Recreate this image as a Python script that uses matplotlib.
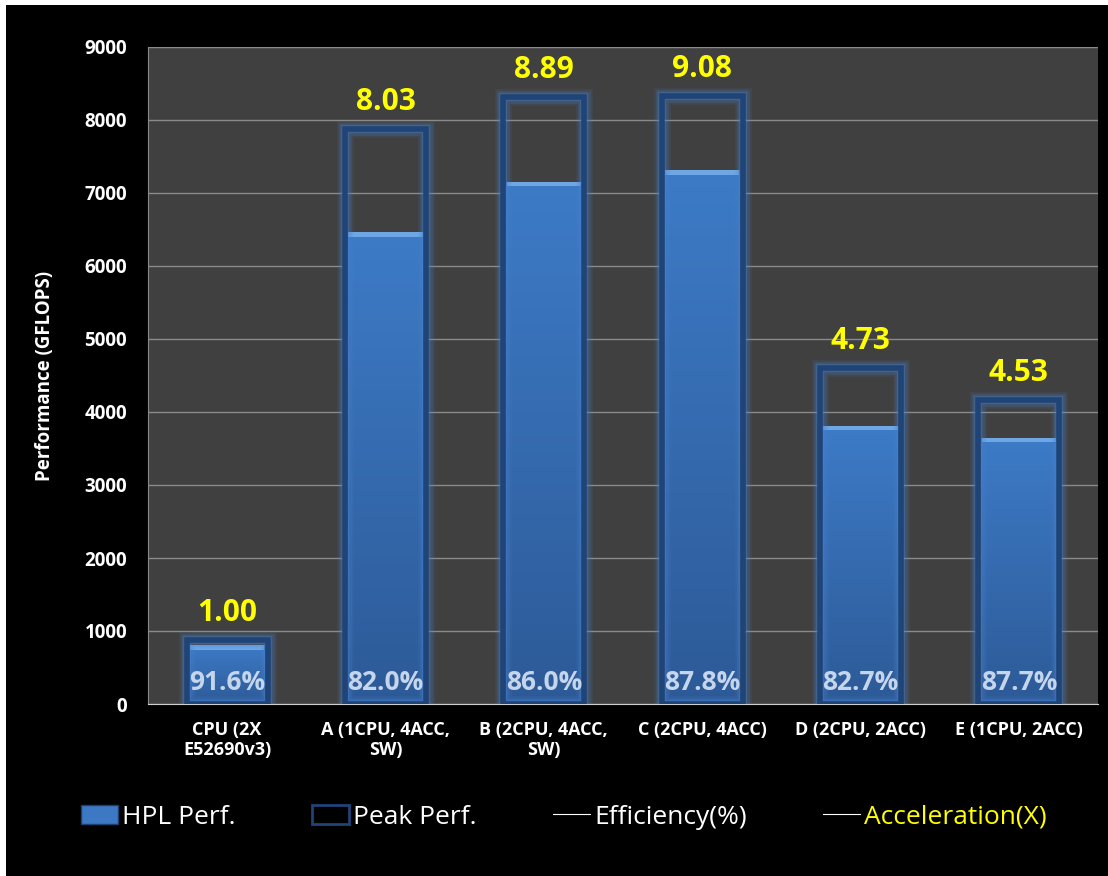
import numpy as np
import matplotlib
matplotlib.use("Agg")
import matplotlib.pyplot as plt
from matplotlib.lines import Line2D
from matplotlib.patches import Patch, Rectangle

plt.rcParams['font.family'] = ['Open Sans', 'DejaVu Sans']

categories = ["CPU (2X\nE52690v3)", "A (1CPU, 4ACC,\nSW)", "B (2CPU, 4ACC,\nSW)",
              "C (2CPU, 4ACC)", "D (2CPU, 2ACC)", "E (1CPU, 2ACC)"]
hpl_perf = [805, 6464, 7156, 7309, 3808, 3647]
peak_perf = [879, 7883, 8321, 8325, 4604, 4158]
efficiency = ["91.6%", "82.0%", "86.0%", "87.8%", "82.7%", "87.7%"]
acceleration = ["1.00", "8.03", "8.89", "9.08", "4.73", "4.53"]
yticks = [0, 1000, 2000, 3000, 4000, 5000, 6000, 7000, 8000, 9000]

fig = plt.figure(figsize=(11.08, 8.76), dpi=100, facecolor='white')
# black backdrop with thin white margin at left/top
fig.patches.append(Rectangle((6 / 1108, 0), 1, 1 - 5 / 876, transform=fig.transFigure,
                             facecolor='black', edgecolor='none', zorder=-10))

ax = fig.add_axes([148 / 1108, 1 - 704 / 876, 950 / 1108, 657 / 876])
ax.set_zorder(1)
ax.set_facecolor('#404040')
x = np.arange(len(categories))

ax.yaxis.grid(True, color='#8a8a8a', linewidth=1)
ax.set_axisbelow(True)

# HPL bars with vertical gradient
hpl_bars = ax.bar(x, hpl_perf, width=0.48, color='#3a70b8', edgecolor='none', zorder=2)
grad = np.linspace(0, 1, 256).reshape(-1, 1)
cmap = matplotlib.colors.LinearSegmentedColormap.from_list('b', ['#2d5a97', '#3d7bc7'])
for b in hpl_bars:
    x0, w, h = b.get_x(), b.get_width(), b.get_height()
    im = ax.imshow(grad, extent=(x0, x0 + w, 0, h), origin='lower', aspect='auto',
                   cmap=cmap, zorder=2.1)
    im.set_clip_path(b)
# bevel highlight at bar tops
ax.bar(x, [60] * len(x), bottom=[v - 60 for v in hpl_perf], width=0.47,
       color='#6ea6e6', edgecolor='none', zorder=2.2)

# peak boxes with a soft glow
for lw, a in [(12, 0.12), (9, 0.2), (6, 0.35)]:
    ax.bar(x, peak_perf, width=0.51, fill=False, edgecolor='#4a82cc', linewidth=lw,
           alpha=a, zorder=3)
ax.bar(x, peak_perf, width=0.51, fill=False, edgecolor='#1f4477', linewidth=4, zorder=3.1)

ax.set_xlim(-0.5, len(categories) - 0.5)
ax.set_ylim(0, 9000)
ax.set_yticks(yticks)

for xi, eff in zip(x, efficiency):
    ax.annotate(eff, xy=(xi, 0), xytext=(0, 21), textcoords='offset pixels',
                ha='center', va='center', color='#c5d5ec', fontsize=19,
                fontweight='bold', zorder=5)
for xi, p, acc in zip(x, peak_perf, acceleration):
    ax.annotate(acc, xy=(xi, p), xytext=(0, 27), textcoords='offset pixels',
                ha='center', va='center', color='#ffff00', fontsize=21.5,
                fontweight='bold', zorder=5)

ax.set_xticks(x)
ax.set_xticklabels(categories, color='white', fontsize=13, fontweight='bold')
ax.set_yticklabels([str(t) for t in yticks], color='white', fontsize=13.5, fontweight='bold')
ax.tick_params(length=0, pad=15)
ax.tick_params(axis='x', pad=12)
ax.set_ylabel("Performance (GFLOPS)", color='white', fontsize=13.5, fontweight='bold',
              labelpad=21)
for s in ['top', 'right']:
    ax.spines[s].set_visible(False)
ax.spines['left'].set_color('#8a8a8a')
ax.spines['bottom'].set_color('#d0d0d0')

handles = [Patch(facecolor='#3d78c4', edgecolor='#1f3f6f'),
           Patch(facecolor='none', edgecolor='#1f4477', linewidth=2),
           Line2D([], [], color='white', linewidth=0.8),
           Line2D([], [], color='white', linewidth=0.8)]
labels = ["HPL Perf.", "Peak Perf.", "Efficiency(%)", "Acceleration(X)"]
leg = fig.legend(handles, labels, loc='center', bbox_to_anchor=(564 / 1108, 1 - 817 / 876),
                 ncol=4, frameon=False, fontsize=19, handlelength=1.4,
                 handletextpad=0.15, columnspacing=2.9)
for t in leg.get_texts():
    t.set_color('white')
leg.get_texts()[3].set_color('#ffff00')

fig.savefig("out.png", dpi=100, facecolor=fig.get_facecolor())
